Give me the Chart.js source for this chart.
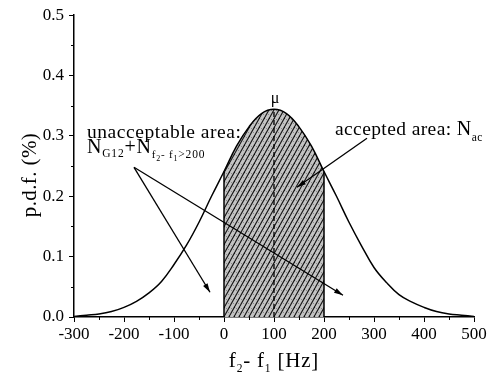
<!DOCTYPE html>
<html><head><meta charset="utf-8">
<script src="https://cdn.jsdelivr.net/npm/chart.js@4.4.1/dist/chart.umd.min.js"></script>
<style>html,body{margin:0;padding:0;background:#fff;overflow:hidden}#wrap{width:493px;height:385px;position:relative}</style>
</head><body><div id="wrap"><canvas id="c" width="493" height="385"></canvas></div>
<script>
// ---- data ----
const freqDiff = [-300,-275,-250,-225,-200,-175,-150,-125,-100,-75,-50,-25,0,25,50,75,100,125,150,175,200,225,250,275,300,325,350,375,400,425,450,475,500];
const pdfPercent = [0.001,0.003,0.005,0.009,0.016,0.026,0.040,0.059,0.087,0.119,0.157,0.200,0.241,0.283,0.315,0.337,0.344,0.337,0.315,0.283,0.241,0.200,0.157,0.118,0.082,0.057,0.037,0.025,0.016,0.009,0.005,0.003,0.001];
const acceptedRange = [0, 200];
const meanFreq = 100;
const xTickValues = [-300,-200,-100,0,100,200,300,400,500];
const xMinorTicks = [-250,-150,-50,50,150,250,350,450];
const yTickValues = [0,0.1,0.2,0.3,0.4,0.5];
const yMinorTicks = [0.05,0.15,0.25,0.35,0.45];
const xTitle = ['f','2','- f','1',' [Hz]'];
const yTitle = 'p.d.f. (%)';
const labelUnacceptable = 'unacceptable area:';
const labelAccepted = 'accepted area: ';
const labelMu = 'μ';

// annotation anchors (data coordinates)
const anchors = {
  unacc: [-274, 0.296], nLine: [-274, 0.272], acc: [222, 0.302], mu: [102, 0.355],
  arrowStart: [-180, 0.248], arrow1End: [-28, 0.041], arrow2End: [238, 0.036],
  arrow3Start: [286, 0.296], arrow3End: [146, 0.215]
};

const pts = freqDiff.map((x,i)=>({x, y: pdfPercent[i]}));
const accPts = pts.filter(p=>p.x>=acceptedRange[0] && p.x<=acceptedRange[1]);
const yAt = x => pdfPercent[freqDiff.indexOf(x)];

const SERIF = '"Liberation Serif", "Times New Roman", serif';

const cv = document.getElementById('c');
const ctx0 = cv.getContext('2d');
function makeHatch(){
  const c = document.createElement('canvas'); c.width = 5; c.height = 9;
  const g = c.getContext('2d');
  g.fillStyle = '#c4c4c4'; g.fillRect(0,0,5,9);
  g.fillStyle = '#8a8a8a';
  g.fillRect(1,2,1,1); g.fillRect(3,6,1,1);
  g.strokeStyle = '#151515'; g.lineWidth = 1.15;
  for (let k=-1;k<=1;k++){ g.beginPath(); g.moveTo(k*5,9); g.lineTo(k*5+5,0); g.stroke(); }
  return ctx0.createPattern(c,'repeat');
}

function richText(ctx, segs, x, y, align, spacing){
  ctx.letterSpacing = (spacing||0)+'px';
  let w = 0;
  segs.forEach(s=>{ ctx.font = s[1]+'px '+SERIF; w += ctx.measureText(s[0]).width; });
  let cx = align==='center' ? x - w/2 : x;
  ctx.textAlign = 'left'; ctx.textBaseline = 'alphabetic';
  segs.forEach(s=>{ ctx.font = s[1]+'px '+SERIF; ctx.fillText(s[0], cx, y + s[2]); cx += ctx.measureText(s[0]).width; });
  ctx.letterSpacing = '0px';
}

function arrow(ctx, x1,y1,x2,y2){
  ctx.beginPath(); ctx.moveTo(x1,y1); ctx.lineTo(x2,y2); ctx.stroke();
  const a = Math.atan2(y2-y1,x2-x1), L=9, W=2.6;
  ctx.beginPath();
  ctx.moveTo(x2,y2);
  ctx.lineTo(x2 - L*Math.cos(a) + W*Math.sin(a), y2 - L*Math.sin(a) - W*Math.cos(a));
  ctx.lineTo(x2 - L*Math.cos(a) - W*Math.sin(a), y2 - L*Math.sin(a) + W*Math.cos(a));
  ctx.closePath(); ctx.fill();
}

const decor = {
  id: 'decor',
  afterDraw(chart){
    const {ctx, scales:{x, y}, chartArea:ca} = chart;
    const P = (p)=>[x.getPixelForValue(p[0]), y.getPixelForValue(p[1])];
    ctx.save();
    ctx.strokeStyle = '#000'; ctx.fillStyle = '#000'; ctx.lineWidth = 1;
    // minor ticks
    xMinorTicks.forEach(v=>{ const px = Math.round(x.getPixelForValue(v))+0.5; ctx.beginPath(); ctx.moveTo(px, ca.bottom); ctx.lineTo(px, ca.bottom+3); ctx.stroke(); });
    yMinorTicks.forEach(v=>{ const py = Math.round(y.getPixelForValue(v))+0.5; ctx.beginPath(); ctx.moveTo(ca.left, py); ctx.lineTo(ca.left-3, py); ctx.stroke(); });
    // arrows
    ctx.lineWidth = 1.3;
    const s = P(anchors.arrowStart);
    let e = P(anchors.arrow1End); arrow(ctx, s[0], s[1], e[0], e[1]);
    e = P(anchors.arrow2End); arrow(ctx, s[0], s[1], e[0], e[1]);
    const s3 = P(anchors.arrow3Start), e3 = P(anchors.arrow3End); arrow(ctx, s3[0], s3[1], e3[0], e3[1]);
    // texts
    let p = P(anchors.unacc);
    richText(ctx, [[labelUnacceptable,19.5,0]], p[0], p[1], 'left', 0.55);
    p = P(anchors.nLine);
    richText(ctx, [['N',20,0],['G12',11.5,4],['+',20,0],['N',20,0],['f',11,5],['2',8,8],['- f',11,5],['1',8,8],['>200',11.5,5]], p[0], p[1], 'left', 0.8);
    p = P(anchors.acc);
    richText(ctx, [[labelAccepted,19.5,0],['N',20,0],['ac',11.5,6]], p[0], p[1], 'left', 0.4);
    p = P(anchors.mu);
    richText(ctx, [[labelMu,16,0]], p[0], p[1], 'center');
    // axis titles
    const segs = [[xTitle[0],21,0],[xTitle[1],11.5,5],[xTitle[2],21,0],[xTitle[3],11.5,5],[xTitle[4],21,0]];
    richText(ctx, segs, (ca.left+ca.right)/2, 367, 'center', 0.8);
    ctx.save();
    ctx.translate(36, 175); ctx.rotate(-Math.PI/2);
    richText(ctx, [[yTitle,21,0]], 0, 0, 'center', 0.4);
    ctx.restore();
    ctx.restore();
  }
};

new Chart(cv, {
  type: 'line',
  data: {
    datasets: [
      { data: pts, borderColor:'#000', borderWidth:1.5, pointRadius:0, fill:false, tension:0.4 },
      { data: [{x:acceptedRange[0],y:0},{x:acceptedRange[0],y:yAt(acceptedRange[0])}], borderColor:'#000', borderWidth:1.5, pointRadius:0, fill:false },
      { data: [{x:acceptedRange[1],y:0},{x:acceptedRange[1],y:yAt(acceptedRange[1])}], borderColor:'#000', borderWidth:1.5, pointRadius:0, fill:false },
      { data: [{x:meanFreq,y:0},{x:meanFreq,y:yAt(meanFreq)}], borderColor:'#000', borderWidth:1.3, borderDash:[5,3], pointRadius:0, fill:false },
      { data: accPts, borderColor:'rgba(0,0,0,0)', borderWidth:0, pointRadius:0, fill:'origin', backgroundColor: makeHatch(), tension:0.4 }
    ]
  },
  options: {
    responsive:false, animation:false, devicePixelRatio:1,
    layout:{ padding:{ top:15, right:19, left:0, bottom:0 } },
    plugins:{ legend:{display:false}, tooltip:{enabled:false} },
    scales:{
      x:{ type:'linear', min:-300, max:500,
        afterBuildTicks: s=>{ s.ticks = xTickValues.map(v=>({value:v})); },
        afterFit: s=>{ s.height = 68; },
        grid:{ display:true, drawOnChartArea:false, drawTicks:true, tickLength:5, color:'#000', lineWidth:1 },
        border:{ display:true, color:'#000', width:1.5 },
        ticks:{ color:'#000', padding:2, font:{family:SERIF, size:17}, maxRotation:0, callback:v=>String(v) }
      },
      y:{ min:0, max:0.5,
        afterBuildTicks: s=>{ s.ticks = yTickValues.map(v=>({value:v})); },
        afterFit: s=>{ s.width = 74; },
        grid:{ display:true, drawOnChartArea:false, drawTicks:true, tickLength:5, color:'#000', lineWidth:1 },
        border:{ display:true, color:'#000', width:1.5 },
        ticks:{ color:'#000', padding:5, font:{family:SERIF, size:17}, callback:v=>Number(v).toFixed(1) }
      }
    }
  },
  plugins:[decor]
});
</script>
</body></html>
